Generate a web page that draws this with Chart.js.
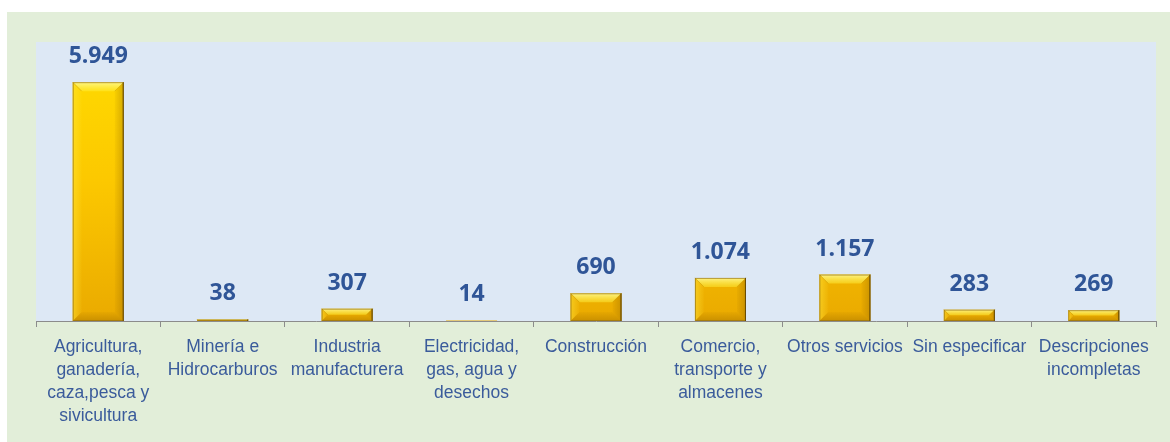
<!DOCTYPE html>
<html>
<head>
<meta charset="utf-8">
<script src="https://cdn.jsdelivr.net/npm/chart.js@4.4.1/dist/chart.umd.min.js"></script>
<style>
  html, body { margin:0; padding:0; background:#ffffff; }
  #box { position:absolute; left:7px; top:12px; width:1163px; height:430px; background:#e2eed9; }
  canvas { display:block; }
</style>
</head>
<body>
<div id="box"><canvas id="c" width="1163" height="430"></canvas></div>
<script>
const categories = [
  ["Agricultura,","ganadería,","caza,pesca y","sivicultura"],
  ["Minería e","Hidrocarburos"],
  ["Industria","manufacturera"],
  ["Electricidad,","gas, agua y","desechos"],
  "Construcción",
  ["Comercio,","transporte y","almacenes"],
  "Otros servicios",
  "Sin especificar",
  ["Descripciones","incompletas"]
];
const values = [5949, 38, 307, 14, 690, 1074, 1157, 283, 269];
const valueLabels = ["5.949","38","307","14","690","1.074","1.157","283","269"];

const plotBg = {
  id:'plotBg',
  beforeDraw(chart){
    const {ctx, chartArea:a} = chart;
    ctx.save();
    ctx.fillStyle = '#dde8f5';
    ctx.fillRect(a.left, a.top, a.right-a.left, a.bottom-a.top);
    ctx.restore();
  }
};

const bevel = {
  id:'bevel',
  afterDatasetsDraw(chart){
    const ctx = chart.ctx;
    const meta = chart.getDatasetMeta(0);
    ctx.save();
    meta.data.forEach((bar, i) => {
      const w = bar.width;
      const l = bar.x - w/2, r = bar.x + w/2;
      const t = Math.min(bar.y, bar.base), b = Math.max(bar.y, bar.base);
      const h = b - t;
      if (h < 1) return;
      const d = Math.min(9, h/2);
      // top bevel
      let g = ctx.createLinearGradient(0, t, 0, t+d);
      g.addColorStop(0, 'rgba(255,250,150,0.9)');
      g.addColorStop(1, 'rgba(255,240,60,0.45)');
      ctx.fillStyle = g;
      ctx.beginPath(); ctx.moveTo(l,t); ctx.lineTo(r,t); ctx.lineTo(r-d,t+d); ctx.lineTo(l+d,t+d); ctx.closePath(); ctx.fill();
      // left bevel
      g = ctx.createLinearGradient(l, 0, l+d, 0);
      g.addColorStop(0, 'rgba(255,230,60,0.5)');
      g.addColorStop(1, 'rgba(255,230,60,0.05)');
      ctx.fillStyle = g;
      ctx.beginPath(); ctx.moveTo(l,t); ctx.lineTo(l+d,t+d); ctx.lineTo(l+d,b-d); ctx.lineTo(l,b); ctx.closePath(); ctx.fill();
      // right bevel
      g = ctx.createLinearGradient(r, 0, r-d, 0);
      g.addColorStop(0, 'rgba(140,95,0,0.35)');
      g.addColorStop(1, 'rgba(140,95,0,0.05)');
      ctx.fillStyle = g;
      ctx.beginPath(); ctx.moveTo(r,t); ctx.lineTo(r-d,t+d); ctx.lineTo(r-d,b-d); ctx.lineTo(r,b); ctx.closePath(); ctx.fill();
      // bottom bevel
      g = ctx.createLinearGradient(0, b, 0, b-d);
      g.addColorStop(0, 'rgba(140,95,0,0.35)');
      g.addColorStop(1, 'rgba(140,95,0,0.05)');
      ctx.fillStyle = g;
      ctx.beginPath(); ctx.moveTo(l,b); ctx.lineTo(l+d,b-d); ctx.lineTo(r-d,b-d); ctx.lineTo(r,b); ctx.closePath(); ctx.fill();
      // diagonal corner lines
      ctx.strokeStyle = 'rgba(200,150,0,0.5)';
      ctx.lineWidth = 1;
      ctx.beginPath();
      ctx.moveTo(l,t); ctx.lineTo(l+d,t+d);
      ctx.moveTo(r,t); ctx.lineTo(r-d,t+d);
      ctx.stroke();
      // edges
      ctx.strokeStyle = 'rgba(150,115,20,0.7)';
      ctx.strokeRect(l+0.5, t+0.5, w-1, h-1);
      ctx.strokeStyle = 'rgba(90,65,0,0.85)';
      ctx.beginPath(); ctx.moveTo(r-0.5,t); ctx.lineTo(r-0.5,b); ctx.stroke();
    });
    // value labels
    ctx.fillStyle = '#2f5597';
    ctx.font = 'bold 23px "Open Sans", "Liberation Sans", sans-serif';
    ctx.textAlign = 'center';
    ctx.textBaseline = 'alphabetic';
    meta.data.forEach((bar, i) => {
      ctx.fillText(valueLabels[i], bar.x, Math.min(bar.y, bar.base) - 19);
    });
    ctx.restore();
  }
};

const chart = new Chart(document.getElementById('c'), {
  type:'bar',
  data:{
    labels: categories,
    datasets:[{
      data: values,
      backgroundColor(ctx){
        const c = ctx.chart, a = c.chartArea;
        if (!a) return '#f5c400';
        const el = ctx.element;
        const top = el && isFinite(el.y) ? el.y : a.top;
        const bot = el && isFinite(el.base) ? el.base : a.bottom;
        if (Math.abs(bot - top) < 1) return '#d8b030';
        const g = c.ctx.createLinearGradient(0, top, 0, bot);
        g.addColorStop(0, '#ffdd00');
        g.addColorStop(0.5, '#fcc800');
        g.addColorStop(1, '#eaaa00');
        return g;
      },
      borderWidth:0,
      categoryPercentage:1,
      barPercentage:0.41
    }]
  },
  options:{
    responsive:false,
    animation:false,
    events:[],
    layout:{ padding:{ left:29, right:14, top:30, bottom:0 } },
    plugins:{ legend:{display:false}, tooltip:{enabled:false} },
    scales:{
      x:{
        offset:true,
        grid:{ offset:true, drawOnChartArea:false, drawTicks:true, tickLength:6, color:'#8c8c8c' },
        border:{ color:'#8c8c8c', width:1 },
        ticks:{ color:'#3a5b9b', font:{ family:'"Liberation Sans", Arial, sans-serif', size:17.5, lineHeight:'23px' }, padding:9, maxRotation:0, autoSkip:false },
        afterFit(scale){ scale.height = 121; }
      },
      y:{
        display:false,
        min:0, max:6950
      }
    }
  },
  plugins:[plotBg, bevel]
});
</script>
</body>
</html>
